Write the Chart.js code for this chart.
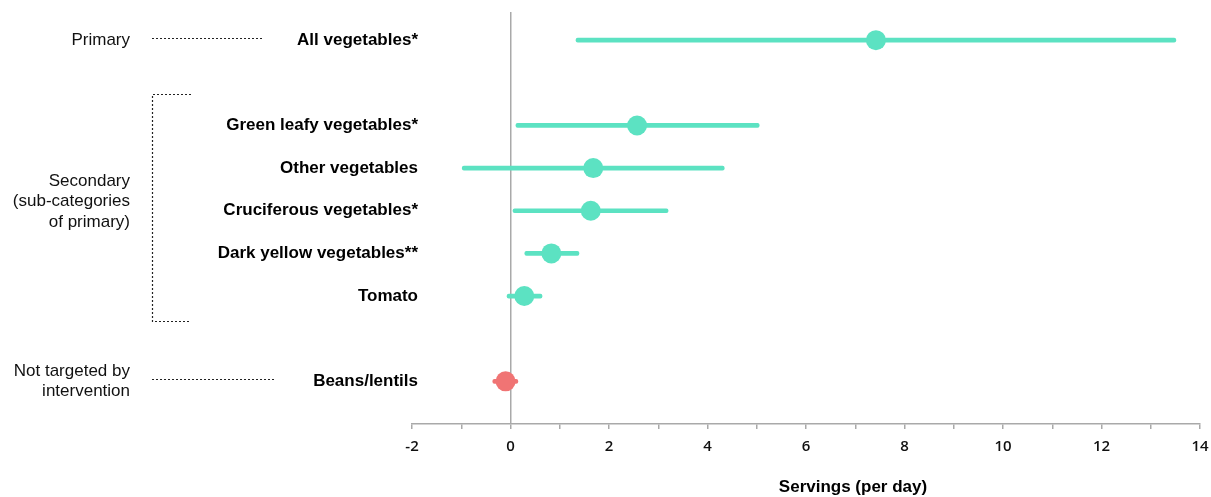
<!DOCTYPE html>
<html>
<head>
<meta charset="utf-8">
<script src="https://cdn.jsdelivr.net/npm/chart.js@4/dist/chart.umd.min.js"></script>
<style>
  html, body { margin: 0; padding: 0; background: #fff; }
  #wrap { width: 1211px; height: 497px; }
</style>
</head>
<body>
<div id="wrap"><canvas id="chart" width="1211" height="497"></canvas></div>
<script>
// Food groups, top to bottom, and the row each one sits on
const categories = ['All vegetables*', 'Green leafy vegetables*', 'Other vegetables',
  'Cruciferous vegetables*', 'Dark yellow vegetables**', 'Tomato', 'Beans/lentils'];
const rows = [0, 2, 3, 4, 5, 6, 8];

// Difference in servings per day, with interval bounds
const estimates = [7.42, 2.57, 1.68, 1.63, 0.83, 0.28, -0.10];
const lower = [1.33, 0.11, -0.98, 0.05, 0.29, -0.07, -0.36];
const upper = [13.51, 5.05, 4.34, 3.20, 1.39, 0.64, 0.15];

// Whether each group was targeted by the intervention
const targeted = [true, true, true, true, true, true, false];

// X-axis tick range
const xTicks = { min: -2, max: 14, step: 1, labelEvery: 2 };

const TEAL = '#5ce2c2';
const RED = '#f07474';
const pointColors = targeted.map(t => t ? TEAL : RED);

// Group annotations on the left
const groups = [
  { lines: ['Primary'], center: 0, kind: 'line', lineEnd: 262, row: 0 },
  { lines: ['Secondary', '(sub-categories', 'of primary)'], center: 3.78, kind: 'bracket', span: [1.27, 6.59] },
  { lines: ['Not targeted by', 'intervention'], center: 8, kind: 'line', lineEnd: 274, row: 8 }
];

const annotationPlugin = {
  id: 'groupAnnotations',
  afterDraw(chart) {
    const ctx = chart.ctx;
    const y = chart.scales.y;
    const area = chart.chartArea;
    ctx.save();
    ctx.textBaseline = 'middle';
    // category names beside each row
    ctx.fillStyle = '#000';
    ctx.font = 'bold 17px "Liberation Sans", Arial, sans-serif';
    ctx.textAlign = 'right';
    categories.forEach((c, i) => {
      ctx.fillText(c, area.left + 6, y.getPixelForValue(rows[i]));
    });
    // group names
    ctx.fillStyle = '#111';
    ctx.font = '17px "Liberation Sans", Arial, sans-serif';
    const lh = 20.5;
    groups.forEach(g => {
      const cy = y.getPixelForValue(g.center);
      const n = g.lines.length;
      g.lines.forEach((t, i) => {
        ctx.fillText(t, 130, cy + (i - (n - 1) / 2) * lh);
      });
    });
    // dotted connectors
    ctx.strokeStyle = '#222';
    ctx.lineWidth = 1.2;
    ctx.setLineDash([2, 2]);
    groups.forEach(g => {
      ctx.beginPath();
      if (g.kind === 'line') {
        const py = Math.round(y.getPixelForValue(g.row)) - 1.5;
        ctx.moveTo(152, py);
        ctx.lineTo(g.lineEnd, py);
      } else {
        const t = Math.round(y.getPixelForValue(g.span[0])) + 0.5;
        const b = Math.round(y.getPixelForValue(g.span[1])) + 0.5;
        ctx.moveTo(191, t);
        ctx.lineTo(152.5, t);
        ctx.lineTo(152.5, b);
        ctx.lineTo(191, b);
      }
      ctx.stroke();
    });
    ctx.setLineDash([]);
    // x-axis title
    ctx.fillStyle = '#000';
    ctx.font = 'bold 17px "Liberation Sans", Arial, sans-serif';
    ctx.textAlign = 'center';
    ctx.fillText('Servings (per day)', (area.left + area.right) / 2 + 47, area.bottom + 63);
    ctx.restore();
  }
};

new Chart(document.getElementById('chart'), {
  data: {
    datasets: [
      {
        type: 'scatter',
        order: 0,
        data: rows.map((r, i) => ({ x: estimates[i], y: r })),
        pointRadius: 10,
        pointHoverRadius: 10,
        pointBackgroundColor: pointColors,
        pointBorderWidth: 0,
        borderWidth: 0
      },
      {
        type: 'bar',
        order: 1,
        indexAxis: 'y',
        data: rows.map((r, i) => ({ x: [lower[i], upper[i]], y: r })),
        backgroundColor: pointColors,
        barThickness: 4,
        borderRadius: 2,
        borderSkipped: false,
        borderWidth: 0
      }
    ]
  },
  options: {
    responsive: false,
    animation: false,
    events: [],
    layout: { padding: { left: 0, right: 11, top: 12, bottom: 0 } },
    plugins: { legend: { display: false }, tooltip: { enabled: false } },
    scales: {
      x: {
        type: 'linear',
        position: 'bottom',
        min: xTicks.min,
        max: xTicks.max,
        afterFit(scale) {
          scale.height = 73;
          scale.paddingLeft = 0;
          scale.paddingRight = 0;
        },
        ticks: {
          stepSize: xTicks.step,
          autoSkip: false,
          maxRotation: 0,
          padding: 9,
          color: '#111',
          font: { family: '"Open Sans", sans-serif', size: 15, weight: '600' },
          callback: v => (v % xTicks.labelEvery === 0 ? String(v) : '')
        },
        grid: {
          drawOnChartArea: true,
          drawTicks: true,
          tickLength: 5,
          lineWidth: 1.5,
          color: c => (c.tick && c.tick.value === 0 ? '#a9a9a9' : 'rgba(0,0,0,0)'),
          tickColor: '#a9a9a9'
        },
        border: { display: true, color: '#a9a9a9', width: 1.5 }
      },
      y: {
        type: 'linear',
        position: 'left',
        reverse: true,
        offset: false,
        min: -0.66,
        max: 9.0,
        afterFit(scale) { scale.width = 412; },
        ticks: { display: false },
        grid: { display: false, drawTicks: false },
        border: { display: false }
      }
    }
  },
  plugins: [annotationPlugin]
});
</script>
</body>
</html>
